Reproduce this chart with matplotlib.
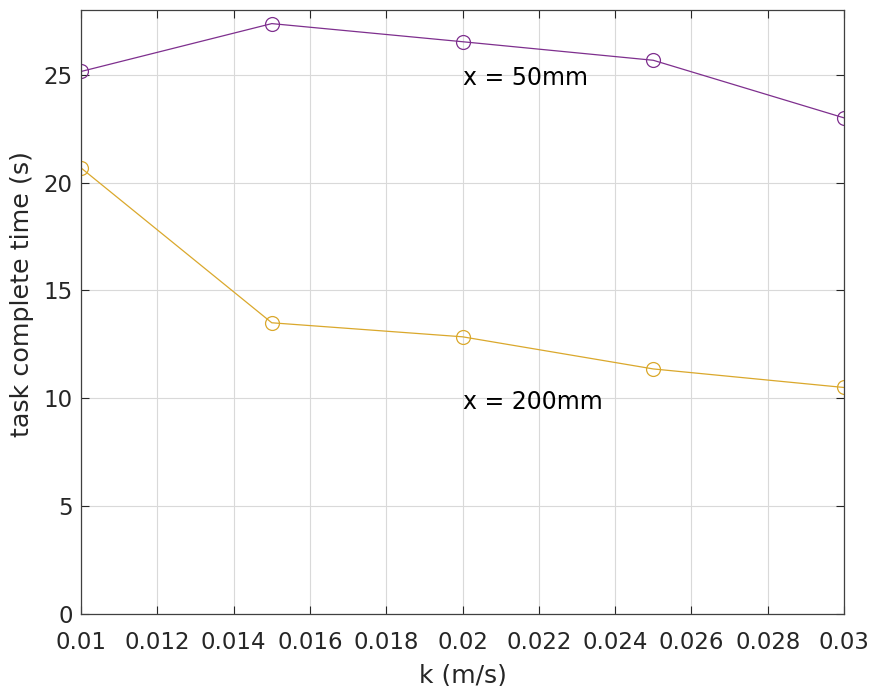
import matplotlib.pyplot as plt
import numpy as np

k = [0.01, 0.015, 0.02, 0.025, 0.03]
time_50mm = [25.15, 27.37, 26.53, 25.67, 23.0]
time_200mm = [20.68, 13.5, 12.85, 11.36, 10.5]

xticks = np.arange(0.01, 0.0301, 0.002)
xtick_labels = ['0.01', '0.012', '0.014', '0.016', '0.018', '0.02',
                '0.022', '0.024', '0.026', '0.028', '0.03']
yticks = [0, 5, 10, 15, 20, 25]

purple = '#7E2F8E'
yellow = '#DAA82C'
textc = '#262626'

fig = plt.figure(figsize=(8.74, 6.86), dpi=100)
ax = fig.add_axes([0.0927, 0.105, 0.873, 0.8804])

ax.plot(k, time_50mm, color=purple, lw=0.9, marker='o', markersize=10,
        markerfacecolor='none', markeredgewidth=0.9)
ax.plot(k, time_200mm, color=yellow, lw=0.9, marker='o', markersize=10,
        markerfacecolor='none', markeredgewidth=0.9)

ax.text(0.02, 24.85, 'x = 50mm', fontsize=17, va='center', ha='left', color='black')
ax.text(0.02, 9.85, 'x = 200mm', fontsize=17, va='center', ha='left', color='black')

ax.set_xlim(0.01, 0.03)
ax.set_ylim(0, 28)
ax.set_xticks(xticks)
ax.set_xticklabels(xtick_labels)
ax.set_yticks(yticks)
ax.grid(True, color='#d9d9d9', lw=0.8)
ax.set_axisbelow(True)
ax.tick_params(direction='in', top=True, right=True, length=6, width=0.8,
               labelsize=16.5, colors=textc)
ax.tick_params(axis='x', pad=12)
ax.tick_params(axis='y', pad=6)
for s in ax.spines.values():
    s.set_color('#404040')
    s.set_linewidth(0.9)

ax.set_xlabel('k (m/s)', fontsize=18, color=textc, labelpad=7)
ax.set_ylabel('task complete time (s)', fontsize=18.3, color=textc)
ax.yaxis.set_label_coords(-0.0616, 0.53)

fig.savefig('out.png', dpi=100)
